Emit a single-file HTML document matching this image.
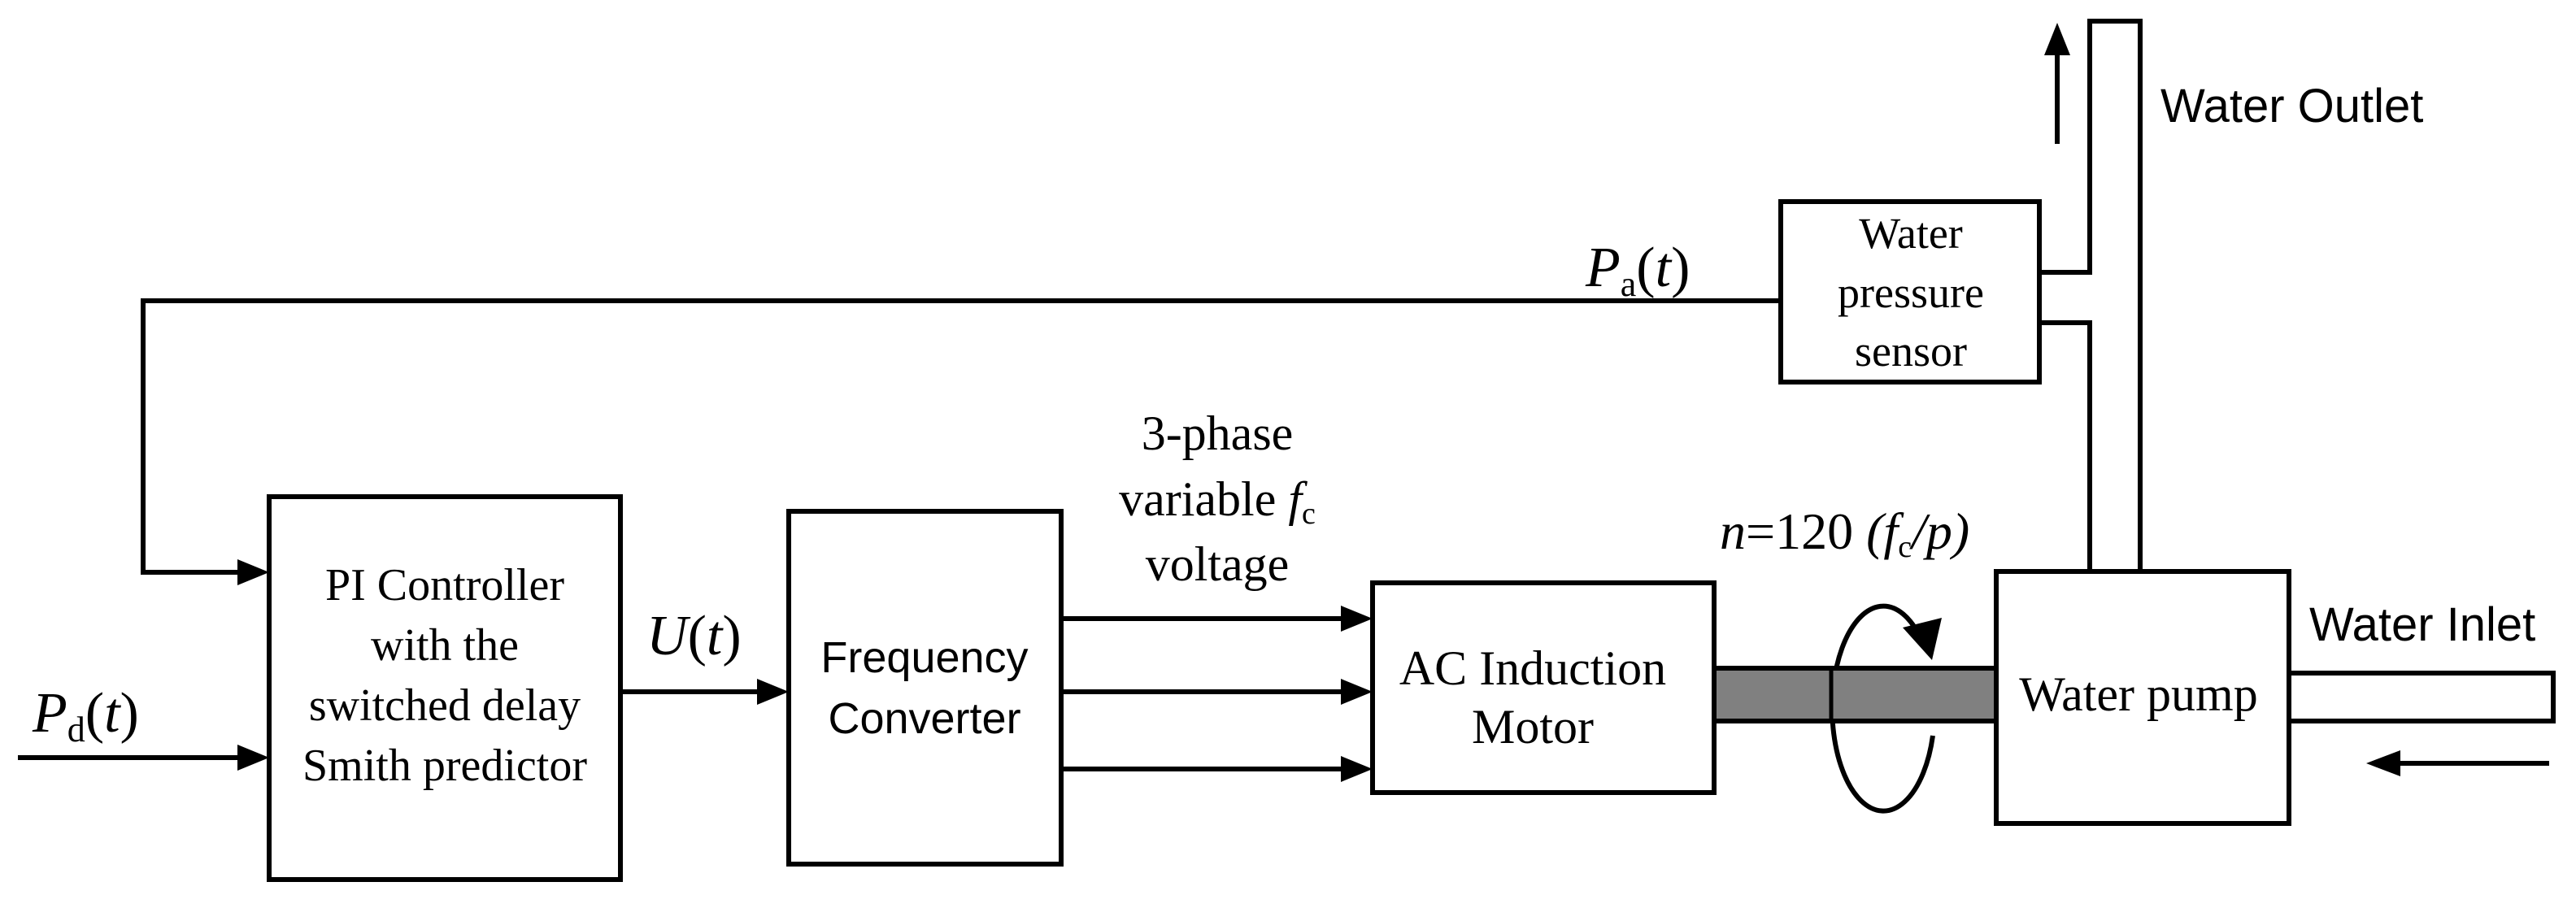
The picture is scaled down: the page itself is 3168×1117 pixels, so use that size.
<!DOCTYPE html>
<html><head><meta charset="utf-8"><style>
html,body{margin:0;padding:0;background:#fff;}
svg{display:block;}
.t{font-family:"Liberation Serif",serif;fill:#000;}
.s{font-family:"Liberation Sans",sans-serif;fill:#000;}
</style></head><body>
<svg width="3168" height="1117" viewBox="0 0 3168 1117" xmlns="http://www.w3.org/2000/svg">
<g stroke="#000" stroke-width="6" fill="none">
<polyline points="2190,370 176,370 176,704 300,704"/>
<line x1="22" y1="932" x2="300" y2="932"/>
<line x1="763" y1="851" x2="935" y2="851"/>
<line x1="1305" y1="761" x2="1655" y2="761"/>
<line x1="1305" y1="851" x2="1655" y2="851"/>
<line x1="1305" y1="946" x2="1655" y2="946"/>
<rect x="331" y="611" width="432" height="471"/>
<rect x="970" y="629" width="335" height="434"/>
<rect x="1688" y="717" width="420" height="258"/>
<rect x="2455" y="703" width="360" height="310"/>
<rect x="2190" y="248" width="318" height="222"/>
<polyline points="2570,703 2570,397 2508,397"/>
<polyline points="2508,335 2570,335 2570,26 2632,26 2632,703"/>
<polyline points="2815,828 3140,828 3140,887 2815,887"/>
<line x1="2530" y1="177" x2="2530" y2="60"/>
<line x1="3135" y1="939" x2="2950" y2="939"/>
<path d="M2377 905 A63 126 0 1 1 2362 785"/>
</g>
<rect x="2108" y="822" width="347" height="65" fill="#808080" stroke="#000" stroke-width="6"/>
<path d="M2252 887 L2252 822" stroke="#000" stroke-width="5" fill="none"/>
<g fill="#000">
<polygon points="331,704 292,688 292,720"/>
<polygon points="331,932 292,916 292,948"/>
<polygon points="970,851 931,835 931,867"/>
<polygon points="1688,761 1649,745 1649,777"/>
<polygon points="1688,851 1649,835 1649,867"/>
<polygon points="1688,946 1649,930 1649,962"/>
<polygon points="2530,28 2514,68 2546,68"/>
<polygon points="2910,939 2952,923 2952,955"/>
<polygon points="2376,812 2340,772 2388,760"/>
</g>
<g class="t" font-size="56" text-anchor="middle">
<text x="547" y="738">PI Controller</text>
<text x="547" y="812">with the</text>
<text x="547" y="886">switched delay</text>
<text x="547" y="960">Smith predictor</text>
<text x="1497" y="553" font-size="60">3-phase</text>
<text x="1497" y="634" font-size="60">variable <tspan font-style="italic">f</tspan><tspan font-size="38" dy="10">c</tspan></text>
<text x="1497" y="714" font-size="60">voltage</text>
<text x="2350" y="305" font-size="54">Water</text>
<text x="2350" y="378" font-size="54">pressure</text>
<text x="2350" y="450" font-size="54">sensor</text>
<text x="1885" y="842" font-size="60">AC Induction</text>
<text x="1885" y="914" font-size="60">Motor</text>
<text x="2630" y="874" font-size="60">Water pump</text>
</g>
<g class="s" font-size="54" text-anchor="middle">
<text x="1137" y="827">Frequency</text>
<text x="1137" y="902">Converter</text>
</g>
<text class="s" x="2657" y="150" font-size="58">Water Outlet</text>
<text class="s" x="2840" y="788" font-size="58">Water Inlet</text>
<text class="t" x="2115" y="675" font-size="64"><tspan font-style="italic">n</tspan>=120 <tspan font-style="italic">(f</tspan><tspan font-size="38" dy="10">c</tspan><tspan dy="-10" font-style="italic">/p)</tspan></text>
<text class="t" x="1950" y="352" font-size="70"><tspan font-style="italic">P</tspan><tspan font-size="44" dy="12">a</tspan><tspan dy="-12">(</tspan><tspan font-style="italic">t</tspan>)</text>
<text class="t" x="795" y="805" font-size="70"><tspan font-style="italic">U</tspan>(<tspan font-style="italic">t</tspan>)</text>
<text class="t" x="40" y="900" font-size="70"><tspan font-style="italic">P</tspan><tspan font-size="44" dy="12">d</tspan><tspan dy="-12">(</tspan><tspan font-style="italic">t</tspan>)</text>
</svg>
</body></html>
